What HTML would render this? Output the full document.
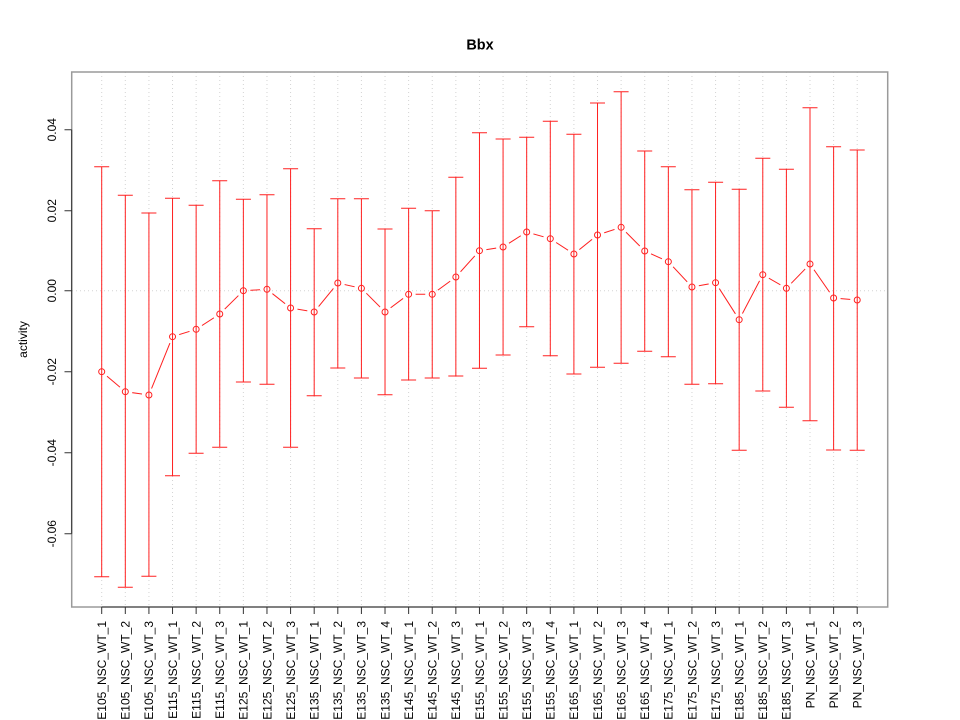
<!DOCTYPE html>
<html><head><meta charset="utf-8"><style>
html,body{margin:0;padding:0;background:#fff;}
svg{display:block;}
text{font-family:"Liberation Sans",Arial,sans-serif;fill:#000;}
</style></head><body>
<svg width="960" height="720" viewBox="0 0 960 720" xmlns="http://www.w3.org/2000/svg">
<defs>
<mask id="m" maskUnits="userSpaceOnUse" x="0" y="0" width="960" height="720">
<rect x="0" y="0" width="960" height="720" fill="#fff"/>
<g fill="#000">
<circle cx="101.7" cy="371.7" r="7"/><circle cx="125.31" cy="391.7" r="7"/><circle cx="148.92" cy="395" r="7"/><circle cx="172.53" cy="336.7" r="7"/><circle cx="196.14" cy="329.3" r="7"/><circle cx="219.75" cy="314" r="7"/><circle cx="243.36" cy="290.7" r="7"/><circle cx="266.97" cy="289.3" r="7"/><circle cx="290.58" cy="308" r="7"/><circle cx="314.19" cy="312" r="7"/><circle cx="337.8" cy="283" r="7"/><circle cx="361.41" cy="288.3" r="7"/><circle cx="385.02" cy="312" r="7"/><circle cx="408.63" cy="294.3" r="7"/><circle cx="432.24" cy="294.3" r="7"/><circle cx="455.85" cy="277" r="7"/><circle cx="479.46" cy="250.7" r="7"/><circle cx="503.07" cy="247" r="7"/><circle cx="526.68" cy="232" r="7"/><circle cx="550.29" cy="238.7" r="7"/><circle cx="573.9" cy="254" r="7"/><circle cx="597.51" cy="235" r="7"/><circle cx="621.12" cy="227.3" r="7"/><circle cx="644.73" cy="251" r="7"/><circle cx="668.34" cy="261.7" r="7"/><circle cx="691.95" cy="287" r="7"/><circle cx="715.56" cy="282.7" r="7"/><circle cx="739.17" cy="319.7" r="7"/><circle cx="762.78" cy="274.7" r="7"/><circle cx="786.39" cy="288.3" r="7"/><circle cx="810" cy="264" r="7"/><circle cx="833.61" cy="298" r="7"/><circle cx="857.22" cy="300" r="7"/>
</g>
</mask>
</defs>

<!-- grid -->
<g stroke="#d3d3d3" stroke-width="1" stroke-dasharray="1,3" fill="none">
<path d="M101.7 72V607M125.31 72V607M148.92 72V607M172.53 72V607M196.14 72V607M219.75 72V607M243.36 72V607M266.97 72V607M290.58 72V607M314.19 72V607M337.8 72V607M361.41 72V607M385.02 72V607M408.63 72V607M432.24 72V607M455.85 72V607M479.46 72V607M503.07 72V607M526.68 72V607M550.29 72V607M573.9 72V607M597.51 72V607M621.12 72V607M644.73 72V607M668.34 72V607M691.95 72V607M715.56 72V607M739.17 72V607M762.78 72V607M786.39 72V607M810 72V607M833.61 72V607M857.22 72V607"/>
<path d="M72 290.7H887.7"/>
</g>

<!-- error bars -->
<g stroke="#ff2020" stroke-width="1" fill="none">
<path d="M101.7 166.7V576.7M94.2 166.7H109.2M94.2 576.7H109.2"/>
<path d="M125.31 195.3V587.3M117.8 195.3H132.8M117.8 587.3H132.8"/>
<path d="M148.92 213V576.3M141.4 213H156.4M141.4 576.3H156.4"/>
<path d="M172.53 198.3V475.7M165 198.3H180M165 475.7H180"/>
<path d="M196.14 205.3V453.3M188.6 205.3H203.6M188.6 453.3H203.6"/>
<path d="M219.75 180.7V447.3M212.2 180.7H227.2M212.2 447.3H227.2"/>
<path d="M243.36 199.3V382M235.9 199.3H250.9M235.9 382H250.9"/>
<path d="M266.97 194.7V384.3M259.5 194.7H274.5M259.5 384.3H274.5"/>
<path d="M290.58 168.7V447.3M283.1 168.7H298.1M283.1 447.3H298.1"/>
<path d="M314.19 228.7V395.7M306.7 228.7H321.7M306.7 395.7H321.7"/>
<path d="M337.8 198.7V368M330.3 198.7H345.3M330.3 368H345.3"/>
<path d="M361.41 198.7V378M353.9 198.7H368.9M353.9 378H368.9"/>
<path d="M385.02 229V394.7M377.5 229H392.5M377.5 394.7H392.5"/>
<path d="M408.63 208.3V380M401.1 208.3H416.1M401.1 380H416.1"/>
<path d="M432.24 210.7V378M424.7 210.7H439.7M424.7 378H439.7"/>
<path d="M455.85 177.3V376M448.3 177.3H463.3M448.3 376H463.3"/>
<path d="M479.46 132.7V368.3M472 132.7H487M472 368.3H487"/>
<path d="M503.07 139V355M495.6 139H510.6M495.6 355H510.6"/>
<path d="M526.68 137.3V326.7M519.2 137.3H534.2M519.2 326.7H534.2"/>
<path d="M550.29 121.3V355.7M542.8 121.3H557.8M542.8 355.7H557.8"/>
<path d="M573.9 134.3V374M566.4 134.3H581.4M566.4 374H581.4"/>
<path d="M597.51 103V367.3M590 103H605M590 367.3H605"/>
<path d="M621.12 91.7V363.3M613.6 91.7H628.6M613.6 363.3H628.6"/>
<path d="M644.73 151V351.3M637.2 151H652.2M637.2 351.3H652.2"/>
<path d="M668.34 166.7V356.7M660.8 166.7H675.8M660.8 356.7H675.8"/>
<path d="M691.95 189.7V384.3M684.4 189.7H699.4M684.4 384.3H699.4"/>
<path d="M715.56 182.3V383.7M708.1 182.3H723.1M708.1 383.7H723.1"/>
<path d="M739.17 189.3V450.3M731.7 189.3H746.7M731.7 450.3H746.7"/>
<path d="M762.78 158.3V391M755.3 158.3H770.3M755.3 391H770.3"/>
<path d="M786.39 169.3V407.3M778.9 169.3H793.9M778.9 407.3H793.9"/>
<path d="M810 107.7V420.7M802.5 107.7H817.5M802.5 420.7H817.5"/>
<path d="M833.61 146.7V450M826.1 146.7H841.1M826.1 450H841.1"/>
<path d="M857.22 150V450.3M849.7 150H864.7M849.7 450.3H864.7"/>
</g>

<!-- mean line -->
<polyline mask="url(#m)" fill="none" stroke="#ff2020" stroke-width="1" points="101.7,371.7 125.31,391.7 148.92,395 172.53,336.7 196.14,329.3 219.75,314 243.36,290.7 266.97,289.3 290.58,308 314.19,312 337.8,283 361.41,288.3 385.02,312 408.63,294.3 432.24,294.3 455.85,277 479.46,250.7 503.07,247 526.68,232 550.29,238.7 573.9,254 597.51,235 621.12,227.3 644.73,251 668.34,261.7 691.95,287 715.56,282.7 739.17,319.7 762.78,274.7 786.39,288.3 810,264 833.61,298 857.22,300"/>
<g fill="none" stroke="#ff2020" stroke-width="1">
<circle cx="101.7" cy="371.7" r="3"/><circle cx="125.31" cy="391.7" r="3"/><circle cx="148.92" cy="395" r="3"/><circle cx="172.53" cy="336.7" r="3"/><circle cx="196.14" cy="329.3" r="3"/><circle cx="219.75" cy="314" r="3"/><circle cx="243.36" cy="290.7" r="3"/><circle cx="266.97" cy="289.3" r="3"/><circle cx="290.58" cy="308" r="3"/><circle cx="314.19" cy="312" r="3"/><circle cx="337.8" cy="283" r="3"/><circle cx="361.41" cy="288.3" r="3"/><circle cx="385.02" cy="312" r="3"/><circle cx="408.63" cy="294.3" r="3"/><circle cx="432.24" cy="294.3" r="3"/><circle cx="455.85" cy="277" r="3"/><circle cx="479.46" cy="250.7" r="3"/><circle cx="503.07" cy="247" r="3"/><circle cx="526.68" cy="232" r="3"/><circle cx="550.29" cy="238.7" r="3"/><circle cx="573.9" cy="254" r="3"/><circle cx="597.51" cy="235" r="3"/><circle cx="621.12" cy="227.3" r="3"/><circle cx="644.73" cy="251" r="3"/><circle cx="668.34" cy="261.7" r="3"/><circle cx="691.95" cy="287" r="3"/><circle cx="715.56" cy="282.7" r="3"/><circle cx="739.17" cy="319.7" r="3"/><circle cx="762.78" cy="274.7" r="3"/><circle cx="786.39" cy="288.3" r="3"/><circle cx="810" cy="264" r="3"/><circle cx="833.61" cy="298" r="3"/><circle cx="857.22" cy="300" r="3"/>
</g>

<!-- box -->
<rect x="71.7" y="72" width="816" height="535" fill="none" stroke="#9a9a9a" stroke-width="1.5"/>

<!-- axes -->
<g stroke="#333" stroke-width="1" fill="none">
<path d="M71.7 129.7V533.7"/>
<path d="M64.5 129.7H71.7M64.5 210.7H71.7M64.5 290.7H71.7M64.5 371.7H71.7M64.5 452.7H71.7M64.5 533.7H71.7"/>
<path d="M101.7 607H857.22"/>
<path d="M101.7 607V614M125.31 607V614M148.92 607V614M172.53 607V614M196.14 607V614M219.75 607V614M243.36 607V614M266.97 607V614M290.58 607V614M314.19 607V614M337.8 607V614M361.41 607V614M385.02 607V614M408.63 607V614M432.24 607V614M455.85 607V614M479.46 607V614M503.07 607V614M526.68 607V614M550.29 607V614M573.9 607V614M597.51 607V614M621.12 607V614M644.73 607V614M668.34 607V614M691.95 607V614M715.56 607V614M739.17 607V614M762.78 607V614M786.39 607V614M810 607V614M833.61 607V614M857.22 607V614"/>
</g>

<!-- y tick labels -->
<g font-size="12" text-anchor="middle">
<text transform="translate(56,129.7) rotate(-90)">0.04</text>
<text transform="translate(56,210.7) rotate(-90)">0.02</text>
<text transform="translate(56,290.7) rotate(-90)">0.00</text>
<text transform="translate(56,371.7) rotate(-90)">-0.02</text>
<text transform="translate(56,452.7) rotate(-90)">-0.04</text>
<text transform="translate(56,533.7) rotate(-90)">-0.06</text>
</g>

<!-- x tick labels -->
<g font-size="12" text-anchor="end">
<text transform="translate(106,621) rotate(-90)">E105_NSC_WT_1</text>
<text transform="translate(129.61,621) rotate(-90)">E105_NSC_WT_2</text>
<text transform="translate(153.22,621) rotate(-90)">E105_NSC_WT_3</text>
<text transform="translate(176.83,621) rotate(-90)">E115_NSC_WT_1</text>
<text transform="translate(200.44,621) rotate(-90)">E115_NSC_WT_2</text>
<text transform="translate(224.05,621) rotate(-90)">E115_NSC_WT_3</text>
<text transform="translate(247.66,621) rotate(-90)">E125_NSC_WT_1</text>
<text transform="translate(271.27,621) rotate(-90)">E125_NSC_WT_2</text>
<text transform="translate(294.88,621) rotate(-90)">E125_NSC_WT_3</text>
<text transform="translate(318.49,621) rotate(-90)">E135_NSC_WT_1</text>
<text transform="translate(342.1,621) rotate(-90)">E135_NSC_WT_2</text>
<text transform="translate(365.71,621) rotate(-90)">E135_NSC_WT_3</text>
<text transform="translate(389.32,621) rotate(-90)">E135_NSC_WT_4</text>
<text transform="translate(412.93,621) rotate(-90)">E145_NSC_WT_1</text>
<text transform="translate(436.54,621) rotate(-90)">E145_NSC_WT_2</text>
<text transform="translate(460.15,621) rotate(-90)">E145_NSC_WT_3</text>
<text transform="translate(483.76,621) rotate(-90)">E155_NSC_WT_1</text>
<text transform="translate(507.37,621) rotate(-90)">E155_NSC_WT_2</text>
<text transform="translate(530.98,621) rotate(-90)">E155_NSC_WT_3</text>
<text transform="translate(554.59,621) rotate(-90)">E155_NSC_WT_4</text>
<text transform="translate(578.2,621) rotate(-90)">E165_NSC_WT_1</text>
<text transform="translate(601.81,621) rotate(-90)">E165_NSC_WT_2</text>
<text transform="translate(625.42,621) rotate(-90)">E165_NSC_WT_3</text>
<text transform="translate(649.03,621) rotate(-90)">E165_NSC_WT_4</text>
<text transform="translate(672.64,621) rotate(-90)">E175_NSC_WT_1</text>
<text transform="translate(696.25,621) rotate(-90)">E175_NSC_WT_2</text>
<text transform="translate(719.86,621) rotate(-90)">E175_NSC_WT_3</text>
<text transform="translate(743.47,621) rotate(-90)">E185_NSC_WT_1</text>
<text transform="translate(767.08,621) rotate(-90)">E185_NSC_WT_2</text>
<text transform="translate(790.69,621) rotate(-90)">E185_NSC_WT_3</text>
<text transform="translate(814.3,621) rotate(-90)">PN_NSC_WT_1</text>
<text transform="translate(837.91,621) rotate(-90)">PN_NSC_WT_2</text>
<text transform="translate(861.52,621) rotate(-90)">PN_NSC_WT_3</text>
</g>

<!-- axis title & main title -->
<text transform="translate(27,339.5) rotate(-90)" font-size="12" text-anchor="middle">activity</text>
<text x="480" y="49.5" font-size="14.4" font-weight="bold" text-anchor="middle">Bbx</text>
</svg>
</body></html>
